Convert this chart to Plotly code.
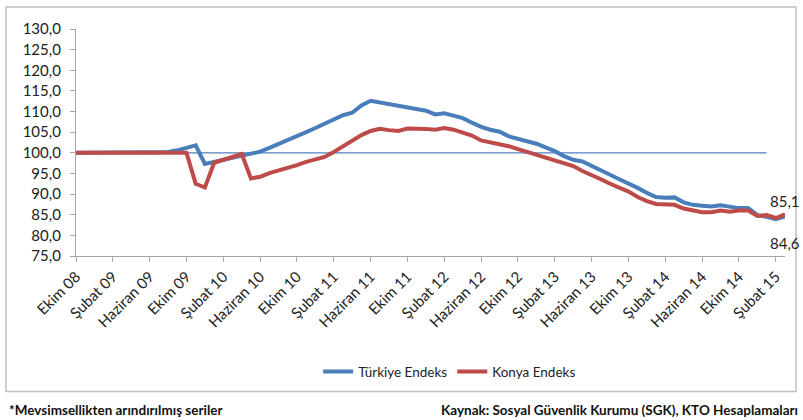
import plotly.graph_objects as go

# Month index 0 = Ekim 08 ... 77 = Mart 15
tick_labels = ["Ekim 08", "Şubat 09", "Haziran 09", "Ekim 09", "Şubat 10", "Haziran 10",
               "Ekim 10", "Şubat 11", "Haziran 11", "Ekim 11", "Şubat 12", "Haziran 12",
               "Ekim 12", "Şubat 13", "Haziran 13", "Ekim 13", "Şubat 14", "Haziran 14",
               "Ekim 14", "Şubat 15"]
tick_positions = [0, 4, 8, 12, 16, 20, 24, 28, 32, 36, 40, 44, 48, 52, 56, 60, 64, 68, 72, 76]

turkiye = [100.0, 100.0, 100.0, 100.0, 100.0, 100.0, 100.0, 100.0, 100.0, 100.0,
           100.2, 100.6, 101.1, 101.8, 97.3, 97.8, 98.3, 98.8, 99.3, 99.7,
           100.3, 101.2, 102.1, 103.2, 104.1, 105.0, 106.0, 107.0, 108.0, 109.1,
           109.7, 111.5, 112.6, 112.2, 111.8, 111.3, 110.8, 110.6, 110.2, 109.3,
           109.6, 109.0, 108.4, 107.3, 106.3, 105.6, 105.1, 104.0, 103.4, 102.8,
           102.2, 101.3, 100.4, 99.2, 98.3, 97.9, 96.9, 95.9, 94.7, 93.6,
           92.6, 91.5, 90.3, 89.3, 89.1, 89.2, 88.0, 87.4, 87.2, 87.0,
           87.3, 86.9, 86.6, 86.6, 84.9, 84.5, 83.9, 84.6]

konya = [100.0, 100.0, 100.0, 100.0, 100.0, 100.0, 100.0, 100.0, 100.0, 100.0,
         100.0, 100.0, 100.0, 92.5, 91.6, 97.6, 98.3, 98.9, 99.7, 93.8,
         94.2, 95.1, 95.7, 96.4, 97.0, 97.8, 98.3, 99.0, 100.2, 101.5,
         102.8, 104.3, 105.3, 105.8, 105.5, 105.3, 105.9, 105.9, 105.8, 105.6,
         106.0, 105.6, 105.0, 104.2, 103.0, 102.6, 102.2, 101.6, 100.9, 100.2,
         99.5, 99.0, 98.3, 97.5, 96.8, 95.6, 94.7, 93.6, 92.5, 91.5,
         90.6, 89.3, 88.3, 87.6, 87.4, 87.4, 86.5, 86.0, 85.6, 85.6,
         86.0, 85.7, 86.0, 86.0, 84.7, 84.9, 84.2, 85.1]

base_line = [100.0] * 76

end_labels = ["85,1", "84,6"]

FONT = "Lato, 'Open Sans', sans-serif"
BLUE = "#4A7EBB"
RED = "#BE4B48"

x_all = list(range(len(turkiye)))

fig = go.Figure()
fig.add_trace(go.Scatter(x=list(range(len(base_line))), y=base_line, mode="lines",
                         line=dict(color="#4F81BD", width=1.3), showlegend=False,
                         hoverinfo="skip"))
fig.add_trace(go.Scatter(x=x_all, y=turkiye, mode="lines", name="Türkiye Endeks",
                         line=dict(color=BLUE, width=4)))
fig.add_trace(go.Scatter(x=x_all, y=konya, mode="lines", name="Konya Endeks",
                         line=dict(color=RED, width=4)))

# end data labels
fig.add_annotation(x=x_all[-1], y=konya[-1], text=end_labels[0], showarrow=False,
                   xref="x", yref="y", yshift=13, xshift=0,
                   font=dict(family=FONT, size=15, color="#222"))
fig.add_annotation(x=x_all[-1], y=turkiye[-1], text=end_labels[1], showarrow=False,
                   xref="x", yref="y", yshift=-27, xshift=0,
                   font=dict(family=FONT, size=15, color="#222"))

# outer chart frame
fig.add_shape(type="rect", xref="paper", yref="paper",
              x0=-0.0987, x1=1.0155, y0=-0.597, y1=1.097,
              line=dict(color="#BFBFBF", width=1.5), fillcolor="rgba(0,0,0,0)", layer="below")

# footer notes
fig.add_annotation(xref="paper", yref="paper", x=-0.097, y=-0.678, xanchor="left", yanchor="middle",
                   text="<b>*Mevsimsellikten arındırılmış seriler</b>", showarrow=False,
                   font=dict(family=FONT, size=13.5, color="#111"))
fig.add_annotation(xref="paper", yref="paper", x=1.021, y=-0.678, xanchor="right", yanchor="middle",
                   text="<b>Kaynak: Sosyal Güvenlik Kurumu (SGK), KTO Hesaplamaları</b>",
                   showarrow=False, font=dict(family=FONT, size=13.5, color="#111"))

fig.update_layout(
    width=803, height=420,
    margin=dict(l=76, r=18, t=29, b=164),
    paper_bgcolor="white", plot_bgcolor="white",
    font=dict(family=FONT, size=14, color="#222"),
    showlegend=True,
    legend=dict(orientation="h", x=0.527, xanchor="center", y=-0.51, yanchor="middle",
                font=dict(family=FONT, size=13.5, color="#222"), itemwidth=30,
                bgcolor="rgba(0,0,0,0)"),
    xaxis=dict(range=[0, 77], tickmode="array", tickvals=tick_positions, ticktext=tick_labels,
               tickangle=-45, ticks="outside", ticklen=5, tickcolor="#A6A6A6",
               showline=True, linecolor="#A6A6A6", linewidth=1.3, showgrid=False,
               zeroline=False, tickfont=dict(family=FONT, size=15, color="#222")),
    yaxis=dict(range=[75, 130], tickmode="linear", tick0=75, dtick=5, tickformat=".1f",
               ticks="outside", ticklen=5, tickcolor="#A6A6A6", ticklabelstandoff=6,
               showline=True, linecolor="#A6A6A6", linewidth=1.3, showgrid=False,
               zeroline=False, tickfont=dict(family=FONT, size=15, color="#222")),
    separators=",.",
)

fig.write_html("out.html", config={"displayModeBar": False},
               post_script="document.body.style.margin='0';")
